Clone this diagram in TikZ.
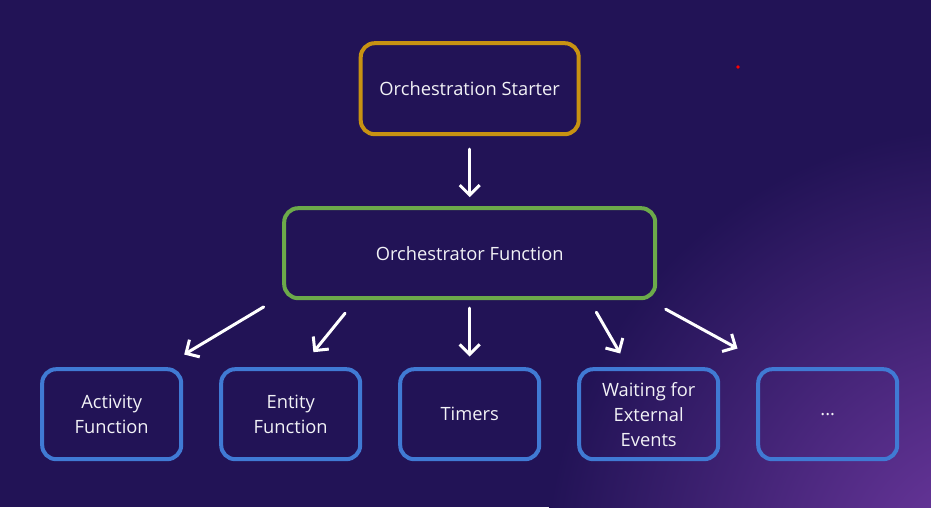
\documentclass[tikz,border=0pt]{standalone}
\usepackage{fontspec}
\setmainfont{Open Sans}
\usetikzlibrary{arrows.meta, positioning, calc}
\definecolor{bgnavy}{RGB}{34,19,86}
\definecolor{bgpurple}{RGB}{112,58,162}
\definecolor{goldline}{RGB}{200,146,18}
\definecolor{greenline}{RGB}{108,170,74}
\definecolor{blueline}{RGB}{64,122,212}
\definecolor{labeltext}{RGB}{242,242,246}

\begin{document}
\begin{tikzpicture}[
    x=1pt, y=1pt,
    node distance=67pt,
    box/.style={rectangle, draw, line width=4pt, rounded corners=14pt, align=center, text=labeltext, font=\fontsize{18.3}{25}\selectfont},
    starter/.style={box, draw=goldline, minimum width=218pt, minimum height=91pt},
    orchbox/.style={box, draw=greenline, minimum width=371pt, minimum height=90pt},
    task/.style={box, draw=blueline, minimum width=139pt, minimum height=90pt},
    arrow/.style={-{Straight Barb[length=10pt,width=20pt]}, line width=3pt, white, line cap=round}
]

% Background
\fill[bgnavy] (0,0) rectangle (931,507);
\begin{scope}
  \clip (0,0) rectangle (931,507);
  \shade[inner color=bgpurple, outer color=bgnavy] (985,-60) circle (440);
\end{scope}
\fill[red] (738,440) circle (1.8);

% Row 1: Starter
\node[starter] (start) at (469.7,418.3) {Orchestration Starter};

% Row 2: Orchestrator
\node[orchbox, below=70pt of start] (orch) {Orchestrator Function};

% Row 3: Tasks
\node[task, below=of orch] (timers) {Timers};
\node[task, left=36pt of timers] (entity) {Entity\\Function};
\node[task, left=36pt of entity] (activity) {Activity\\Function};
\node[task, right=36pt of timers] (waiting) {Waiting for\\External\\Events};
\node[task, right=36pt of waiting] (more) {...};

% Arrow ends
\coordinate (t1) at ($(orch.south)+(-206,-6.7)$);
\coordinate (h1) at ($(activity.north east)+(1,12.7)$);
\coordinate (t2) at ($(orch.south)+(-124.6,-13)$);
\coordinate (h2) at ($(entity.north)+(22.7,15)$);
\coordinate (t3) at ($(orch.south)+(0,-8)$);
\coordinate (h3) at ($(timers.north)+(0,10.7)$);
\coordinate (t4) at ($(orch.south)+(126.6,-12)$);
\coordinate (h4) at ($(waiting.north)+(-28.5,13.7)$);
\coordinate (t5) at ($(orch.south)+(196,-9)$);
\coordinate (h5) at ($(more.north west)+(-18.7,18.7)$);

% Arrows
\draw[arrow, shorten <=13pt, shorten >=9pt] (start) -- (orch);
\draw[arrow] (t1) -- (h1);
\draw[arrow] (t2) -- (h2);
\draw[arrow] (t3) -- (h3);
\draw[arrow] (t4) -- (h4);
\draw[arrow] (t5) -- (h5);

\end{tikzpicture}
\end{document}
